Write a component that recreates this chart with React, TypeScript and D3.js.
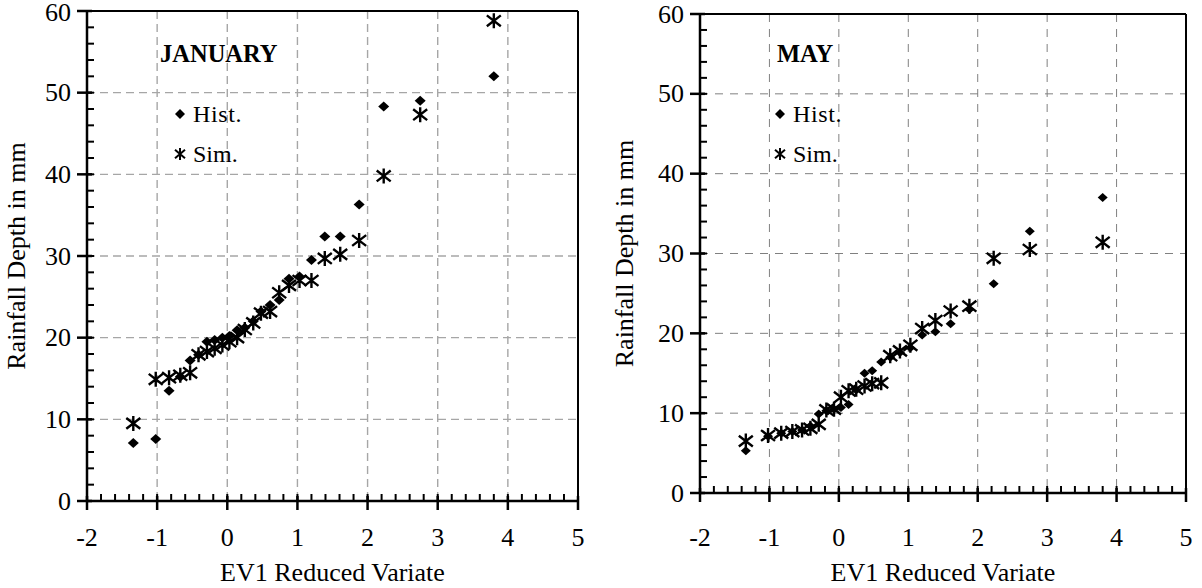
import React from "react";
import * as d3 from "d3";

const VARIATE = [3.80, 2.75, 2.23, 1.88, 1.61, 1.39, 1.20, 1.03, 0.88, 0.74, 0.61, 0.48, 0.37, 0.25, 0.14, 0.03, -0.07, -0.18, -0.29, -0.41, -0.53, -0.67, -0.83, -1.02, -1.34];

const JAN_HIST = [52.0, 49.0, 48.3, 36.3, 32.4, 32.4, 29.5, 27.5, 27.2, 24.6, 24.0, 23.2, 22.0, 21.2, 20.9, 20.2, 20.0, 19.7, 19.5, 17.9, 17.2, 15.2, 13.5, 7.6, 7.1];
const JAN_SIM = [58.8, 47.3, 39.8, 31.9, 30.2, 29.7, 27.0, 27.0, 26.4, 25.5, 23.2, 23.0, 21.8, 21.0, 20.0, 19.5, 19.1, 18.7, 18.3, 17.9, 15.7, 15.4, 15.1, 14.9, 9.5];

const MAY_HIST = [37.0, 32.8, 26.2, 23.0, 21.2, 20.2, 19.8, 18.2, 17.6, 17.0, 16.4, 15.3, 15.0, 12.9, 11.1, 10.7, 10.5, 10.3, 9.9, 8.4, 7.9, 7.7, 7.5, 7.1, 5.3];
const MAY_SIM = [31.4, 30.5, 29.4, 23.4, 22.8, 21.6, 20.6, 18.5, 17.8, 17.2, 13.8, 13.7, 13.4, 13.0, 12.8, 12.0, 10.5, 10.4, 8.6, 8.1, 7.9, 7.7, 7.5, 7.2, 6.5];

const X_TICKS = [-2, -1, 0, 1, 2, 3, 4, 5];
const Y_TICKS = [0, 10, 20, 30, 40, 50, 60];
const X_DOMAIN: [number, number] = [-2, 5];
const Y_DOMAIN: [number, number] = [0, 60];

const X_TITLE = "EV1 Reduced Variate";
const Y_TITLE = "Rainfall Depth in mm";
const LEGEND = ["Hist.", "Sim."];

const FONT = "'Liberation Serif', 'Times New Roman', serif";
const FS = 26;

function starPath(cx: number, cy: number, w: number, h: number) {
  const hw = w / 2, hh = h / 2;
  return `M${cx - hw},${cy - hh * 0.72}L${cx + hw},${cy + hh * 0.72}M${cx - hw},${cy + hh * 0.72}L${cx + hw},${cy - hh * 0.72}M${cx},${cy - hh}L${cx},${cy + hh}`;
}
function diamondPath(cx: number, cy: number, w: number, h: number) {
  return `M${cx},${cy - h / 2}L${cx + w / 2},${cy}L${cx},${cy + h / 2}L${cx - w / 2},${cy}Z`;
}

type PanelProps = {
  left: number; right: number; top: number; bottom: number;
  hist: number[]; sim: number[]; label: string;
  labelX: number; legendX: number; yTitleX: number;
  gridColor: string; gridWidth: number; gridDash: string;
  diamond: number;
};

function Panel(p: PanelProps) {
  const x = d3.scaleLinear().domain(X_DOMAIN).range([p.left, p.right]);
  const y = d3.scaleLinear().domain(Y_DOMAIN).range([p.bottom, p.top]);
  const xMinor = d3.range(X_DOMAIN[0], X_DOMAIN[1] + 0.001, 0.2);
  const yMinor = d3.range(Y_DOMAIN[0], Y_DOMAIN[1] + 0.001, 2);
  return (
    <g>
      {X_TICKS.slice(1, -1).map((t) => (
        <line key={"gx" + t} x1={x(t)} x2={x(t)} y1={p.top} y2={p.bottom}
          stroke={p.gridColor} strokeWidth={p.gridWidth} strokeDasharray={p.gridDash} />
      ))}
      {Y_TICKS.slice(1, -1).map((t) => (
        <line key={"gy" + t} x1={p.left} x2={p.right} y1={y(t)} y2={y(t)}
          stroke={p.gridColor} strokeWidth={p.gridWidth} strokeDasharray={p.gridDash} />
      ))}
      <line x1={p.left} x2={p.right} y1={p.top} y2={p.top} stroke="#000" strokeWidth={2} />
      <line x1={p.right} x2={p.right} y1={p.top} y2={p.bottom} stroke="#000" strokeWidth={2} />
      <line x1={p.left} x2={p.left} y1={p.top} y2={p.bottom} stroke="#000" strokeWidth={2.5} />
      <line x1={p.left} x2={p.right} y1={p.bottom} y2={p.bottom} stroke="#000" strokeWidth={2.5} />
      {xMinor.map((t, i) => (
        <line key={"mx" + i} x1={x(t)} x2={x(t)} y1={p.bottom} y2={p.bottom - 7} stroke="#000" strokeWidth={2} />
      ))}
      {yMinor.map((t, i) => (
        <line key={"my" + i} x1={p.left} x2={p.left + 7} y1={y(t)} y2={y(t)} stroke="#000" strokeWidth={2} />
      ))}
      {X_TICKS.map((t) => (
        <line key={"tx" + t} x1={x(t)} x2={x(t)} y1={p.bottom - 5} y2={p.bottom + 9} stroke="#000" strokeWidth={2.5} />
      ))}
      {Y_TICKS.map((t) => (
        <line key={"ty" + t} x1={p.left - 10} x2={p.left + 5} y1={y(t)} y2={y(t)} stroke="#000" strokeWidth={2.5} />
      ))}
      {X_TICKS.map((t) => (
        <text key={"lx" + t} x={x(t)} y={546} textAnchor="middle" fontSize={FS} fontFamily={FONT}>{t}</text>
      ))}
      {Y_TICKS.map((t) => (
        <text key={"ly" + t} x={p.left - 16} y={Math.max(y(t) + 8.5, 21)} textAnchor="end" fontSize={FS} fontFamily={FONT}>{t}</text>
      ))}
      <text x={(p.left + p.right) / 2} y={581} textAnchor="middle" fontSize={FS} fontFamily={FONT}>{X_TITLE}</text>
      <text transform={`translate(${p.yTitleX},${(p.top + p.bottom) / 2}) rotate(-90)`} textAnchor="middle"
        fontSize={FS} fontFamily={FONT}>{Y_TITLE}</text>
      {p.hist.map((v, i) => (
        <path key={"h" + i} d={diamondPath(x(VARIATE[i]), y(v), p.diamond + 1, p.diamond)} fill="#000" />
      ))}
      {p.sim.map((v, i) => (
        <path key={"s" + i} d={starPath(x(VARIATE[i]), y(v), 14, 15)} stroke="#000" strokeWidth={2.4} fill="none" />
      ))}
      <text x={p.labelX} y={62} fontSize={24.5} fontWeight="bold" fontFamily={FONT}>{p.label}</text>
      <path d={diamondPath(p.legendX, 114, 10, 10)} fill="#000" />
      <text x={p.legendX + 13} y={122} fontSize={24} fontFamily={FONT} letterSpacing={0.6}>{LEGEND[0]}</text>
      <path d={starPath(p.legendX, 154, 10, 12)} stroke="#000" strokeWidth={2} fill="none" />
      <text x={p.legendX + 13} y={162} fontSize={24} fontFamily={FONT}>{LEGEND[1]}</text>
    </g>
  );
}

export default function App() {
  return (
    <svg width={1202} height={588} style={{ position: "absolute", left: 0, top: 0, background: "#fff" }}>
      <rect width={1202} height={588} fill="#fff" />
      <Panel left={87} right={578} top={11} bottom={501} hist={JAN_HIST} sim={JAN_SIM} label="JANUARY"
        labelX={160} legendX={180} yTitleX={25} gridColor="#a6a6a6" gridWidth={1.4} gridDash="8,5" diamond={10} />
      <Panel left={700} right={1186} top={14} bottom={493} hist={MAY_HIST} sim={MAY_SIM} label="MAY"
        labelX={777} legendX={780} yTitleX={633} gridColor="#808080" gridWidth={1} gridDash="8,7" diamond={9} />
    </svg>
  );
}
